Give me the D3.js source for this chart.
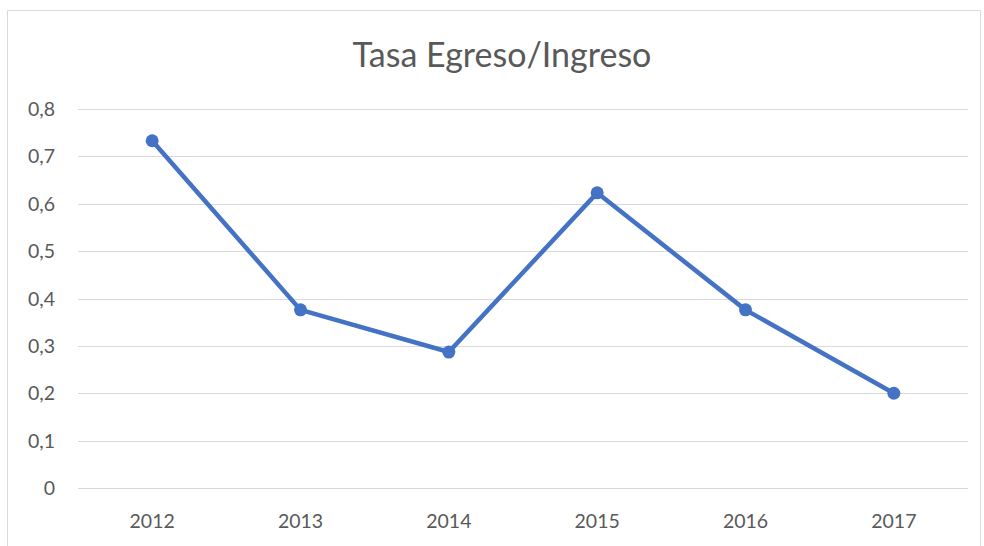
<!DOCTYPE html>
<html>
<head>
<meta charset="utf-8">
<script src="https://cdn.jsdelivr.net/npm/d3@7"></script>
<style>
  html, body { margin: 0; padding: 0; background: #fff; }
  svg { display: block; font-family: Lato, "Open Sans", sans-serif; }
</style>
</head>
<body>
<svg id="chart"></svg>
<script>
/* ---------- data ---------- */
const years  = ["2012", "2013", "2014", "2015", "2016", "2017"];
const values = [0.733, 0.376, 0.287, 0.623, 0.376, 0.2];
const yTicks = [0, 0.1, 0.2, 0.3, 0.4, 0.5, 0.6, 0.7, 0.8];
const title  = "Tasa Egreso/Ingreso";

/* ---------- setup ---------- */
const width = 984, height = 546;
const plot = { left: 78, right: 968, top: 109, bottom: 488 };

const svg = d3.select("#chart").attr("width", width).attr("height", height);

// chart frame (bottom edge is cut off in the picture)
svg.append("path")
  .attr("d", `M7.5,${height} V10.5 H980.5 V${height}`)
  .attr("fill", "none").attr("stroke", "#d9d9d9").attr("stroke-width", 1);

svg.append("text")
  .attr("x", 502).attr("y", 67)
  .attr("text-anchor", "middle")
  .attr("font-size", 34).attr("fill", "#595959")
  .text(title);

const x = d3.scalePoint().domain(years).range([plot.left, plot.right]).padding(0.5);
const y = d3.scaleLinear().domain([0, 0.8]).range([plot.bottom, plot.top]);

const fmt = d => d3.format(".1f")(d).replace(".", ",");

// grid
svg.append("g").selectAll("line").data(yTicks).enter().append("line")
  .attr("x1", plot.left).attr("x2", plot.right)
  .attr("y1", d => Math.round(y(d)) + 0.5).attr("y2", d => Math.round(y(d)) + 0.5)
  .attr("stroke", "#d9d9d9").attr("stroke-width", 1.2);

// y labels
svg.append("g").selectAll("text").data(yTicks).enter().append("text")
  .attr("x", 55).attr("y", d => y(d) + 7)
  .attr("text-anchor", "end")
  .attr("font-size", 19.5).attr("fill", "#595959")
  .text(d => d === 0 ? "0" : fmt(d));

// x labels
svg.append("g").selectAll("text").data(years).enter().append("text")
  .attr("x", d => x(d)).attr("y", 528)
  .attr("text-anchor", "middle")
  .attr("font-size", 19.5).attr("fill", "#595959")
  .text(d => d);

const pts = years.map((d, i) => ({ year: d, v: values[i] }));

svg.append("path").datum(pts)
  .attr("fill", "none").attr("stroke", "#4472c4").attr("stroke-width", 4.5)
  .attr("stroke-linejoin", "round")
  .attr("d", d3.line().x(d => x(d.year)).y(d => y(d.v)));

svg.append("g").selectAll("circle").data(pts).enter().append("circle")
  .attr("cx", d => x(d.year)).attr("cy", d => y(d.v)).attr("r", 6.5)
  .attr("fill", "#4472c4");
</script>
</body>
</html>
